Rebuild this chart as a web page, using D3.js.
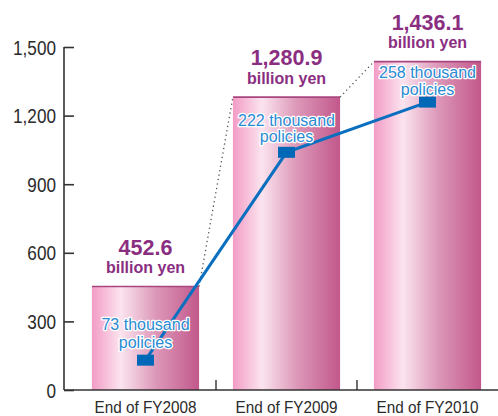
<!DOCTYPE html>
<html>
<head>
<meta charset="utf-8">
<script src="https://cdn.jsdelivr.net/npm/d3@7/dist/d3.min.js"></script>
<style>
html,body{margin:0;padding:0;background:#fff;}
svg{display:block;}
</style>
</head>
<body>
<svg id="chart" width="498" height="416"></svg>
<script>
const categories = ["End of FY2008", "End of FY2009", "End of FY2010"];
const amounts = [452.6, 1280.9, 1436.1];
const amountLabels = ["452.6", "1,280.9", "1,436.1"];
const policies = [73, 222, 258];
const policyLabels = ["73 thousand", "222 thousand", "258 thousand"];
const yTicks = [0, 300, 600, 900, 1200, 1500];

const svg = d3.select("#chart");
const sans = "'Liberation Sans', Arial, Helvetica, sans-serif";

const x = d3.scaleBand().domain(categories).range([75, 498]).paddingInner(0.24).paddingOuter(0.12);
const y = d3.scaleLinear().domain([0, 1500]).range([390, 47]);
const yPol = d3.scaleLinear().domain([0, 300]).range([462, 43.5]);
const cx = c => x(c) + x.bandwidth() / 2;

// gradient
const defs = svg.append("defs");
const g = defs.append("linearGradient").attr("id", "barGrad").attr("x1", "0%").attr("x2", "100%").attr("y1", "0%").attr("y2", "0%");
g.append("stop").attr("offset", "0%").attr("stop-color", "#f29cc5");
g.append("stop").attr("offset", "27%").attr("stop-color", "#fbe4ef");
g.append("stop").attr("offset", "60%").attr("stop-color", "#dc97b8");
g.append("stop").attr("offset", "100%").attr("stop-color", "#c2588b");

// bars
svg.selectAll("rect.bar").data(categories).join("rect")
  .attr("class", "bar")
  .attr("x", d => x(d))
  .attr("width", x.bandwidth())
  .attr("y", (d, i) => y(amounts[i]))
  .attr("height", (d, i) => y(0) - y(amounts[i]))
  .attr("fill", "url(#barGrad)");
svg.selectAll("line.top").data(categories).join("line")
  .attr("class", "top")
  .attr("x1", d => x(d)).attr("x2", d => x(d) + x.bandwidth())
  .attr("y1", (d, i) => y(amounts[i])).attr("y2", (d, i) => y(amounts[i]))
  .attr("stroke", "#a9467f").attr("stroke-width", 1.6);

// dotted connectors
for (let i = 0; i < categories.length - 1; i++) {
  svg.append("line")
    .attr("x1", x(categories[i]) + x.bandwidth()).attr("y1", y(amounts[i]))
    .attr("x2", x(categories[i + 1])).attr("y2", y(amounts[i + 1]))
    .attr("stroke", "#555").attr("stroke-width", 1.3)
    .attr("stroke-dasharray", "1.3,3.2");
}

// y axis
const sy = 0.88;
const yAxis = d3.axisRight(y).tickValues(yTicks).tickSize(10).tickFormat(d3.format(","));
const ya = svg.append("g").attr("transform", "translate(64,0)").call(yAxis);
ya.select(".domain").attr("stroke", "#333").attr("stroke-width", 1.6).attr("d", "M0,47V390");
ya.selectAll(".tick line").attr("stroke", "#333").attr("stroke-width", 1.6);
ya.selectAll(".tick text").attr("x", -8 / sy).attr("text-anchor", "end").attr("dy", "0.36em")
  .attr("transform", `scale(${sy},1)`)
  .attr("font-family", sans).attr("font-size", 19.5).attr("fill", "#2b2b2b");

// x axis
svg.append("line").attr("x1", 64).attr("x2", 498).attr("y1", y(0)).attr("y2", y(0))
  .attr("stroke", "#333").attr("stroke-width", 1.6);
const step = x.step();
for (let i = 1; i < categories.length; i++) {
  const bx = x(categories[i]) - x.paddingInner() * step / 2;
  svg.append("line").attr("x1", bx).attr("x2", bx).attr("y1", y(0)).attr("y2", y(0) - 10)
    .attr("stroke", "#333").attr("stroke-width", 1.4);
}
svg.selectAll("text.cat").data(categories).join("text")
  .attr("class", "cat")
  .attr("transform", d => `translate(${cx(d)},413) scale(0.9,1)`)
  .attr("text-anchor", "middle")
  .attr("font-family", sans).attr("font-size", 17).attr("fill", "#2b2b2b")
  .text(d => d);

// amount labels
svg.selectAll("text.amt").data(categories).join("text")
  .attr("class", "amt")
  .attr("x", d => cx(d)).attr("y", (d, i) => y(amounts[i]) - 32)
  .attr("text-anchor", "middle").attr("font-family", sans).attr("font-weight", "bold")
  .attr("font-size", 21.5).attr("fill", "#8a2e81")
  .text((d, i) => amountLabels[i]);
svg.selectAll("text.unit").data(categories).join("text")
  .attr("class", "unit")
  .attr("x", d => cx(d)).attr("y", (d, i) => y(amounts[i]) - 13.5)
  .attr("text-anchor", "middle").attr("font-family", sans).attr("font-weight", "bold")
  .attr("font-size", 16).attr("fill", "#8a2e81")
  .text("billion yen");

// policies line
const line = d3.line().x((d, i) => cx(categories[i])).y(d => yPol(d));
svg.append("path").datum(policies).attr("d", line)
  .attr("fill", "none").attr("stroke", "#0a6fbe").attr("stroke-width", 3);
svg.selectAll("rect.mk").data(policies).join("rect")
  .attr("class", "mk")
  .attr("x", (d, i) => cx(categories[i]) - 8.5).attr("y", d => yPol(d) - 5.5)
  .attr("width", 17).attr("height", 11).attr("fill", "#0068b7");

// policies labels
const polOff = [[-30, -12], [-26, -10], [-24, -7]];
svg.selectAll("text.pol1").data(policies).join("text")
  .attr("class", "pol1")
  .attr("x", (d, i) => cx(categories[i])).attr("y", (d, i) => yPol(d) + polOff[i][0])
  .attr("text-anchor", "middle").attr("font-family", sans).attr("font-size", 16)
  .attr("fill", "#2a8bd3").attr("stroke", "#fff").attr("stroke-width", 2.6)
  .attr("paint-order", "stroke").attr("stroke-linejoin", "round")
  .text((d, i) => policyLabels[i]);
svg.selectAll("text.pol2").data(policies).join("text")
  .attr("class", "pol2")
  .attr("x", (d, i) => cx(categories[i])).attr("y", (d, i) => yPol(d) + polOff[i][1])
  .attr("text-anchor", "middle").attr("font-family", sans).attr("font-size", 16)
  .attr("fill", "#2a8bd3").attr("stroke", "#fff").attr("stroke-width", 2.6)
  .attr("paint-order", "stroke").attr("stroke-linejoin", "round")
  .text("policies");
</script>
</body>
</html>
